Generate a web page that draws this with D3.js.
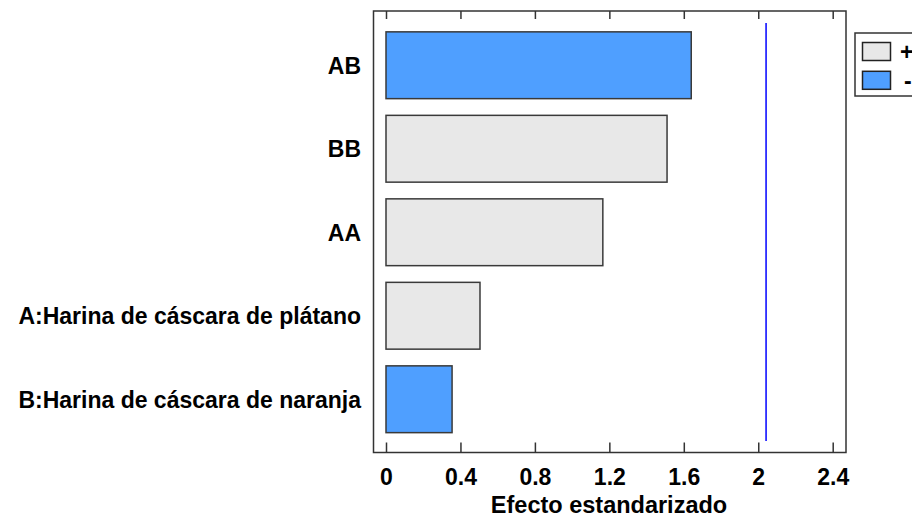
<!DOCTYPE html>
<html><head><meta charset="utf-8">
<script src="https://cdn.jsdelivr.net/npm/d3@7/dist/d3.min.js"></script>
<style>body{margin:0;background:#fff}svg{display:block}text{font-family:"Liberation Sans",Arial,sans-serif;font-weight:bold;fill:#000}</style>
</head><body><svg id="c" width="912" height="518"></svg>
<script>
const categories = ["AB","BB","AA","A:Harina de cáscara de plátano","B:Harina de cáscara de naranja"];
const effects = [1.64, 1.51, 1.165, 0.505, 0.355];
const signs = ["-","+","+","+","-"];
const tickValues = [0,0.4,0.8,1.2,1.6,2,2.4];
const tickLabels = ["0","0.4","0.8","1.2","1.6","2","2.4"];
const criticalValue = 2.042;
const legendItems = ["+","-"];

const colors = {"+":"#E8E8E8","-":"#4F9FFF"};
const svg = d3.select("#c");
const L = 373.5, R = 846, T = 11, B = 452.5;
const x = d3.scaleLinear().domain([0,2.4]).range([386,832.7]);
const y = d3.scaleBand().domain(categories).range([23.5,441]).paddingInner(0.2).paddingOuter(0.1);

svg.selectAll("rect.bar").data(categories).enter().append("rect")
  .attr("x", x(0)).attr("y", d=>y(d))
  .attr("width", (d,i)=>x(effects[i])-x(0)).attr("height", y.bandwidth())
  .attr("fill", (d,i)=>colors[signs[i]]).attr("stroke","#3a3a3a").attr("stroke-width",1.5);

svg.append("line").attr("x1",x(criticalValue)).attr("x2",x(criticalValue))
  .attr("y1",23).attr("y2",441).attr("stroke","#0000FF").attr("stroke-width",1.5);

svg.append("rect").attr("x",L).attr("y",T).attr("width",R-L).attr("height",B-T)
  .attr("fill","none").attr("stroke","#333").attr("stroke-width",1.5);

const bottomAxis = d3.axisBottom(x).tickValues(tickValues).tickSize(-10).tickFormat((d,i)=>tickLabels[i]);
const gb = svg.append("g").attr("transform",`translate(0,${B})`).call(bottomAxis);
gb.select(".domain").remove();
gb.selectAll(".tick line").attr("stroke","#333").attr("stroke-width",1.5);
gb.selectAll(".tick text").attr("y",24).attr("dy","0.36em").style("font-size","23px")
  .style("font-family","'Liberation Sans',Arial,sans-serif").style("font-weight","bold").attr("fill","#000");

const topAxis = d3.axisTop(x).tickValues(tickValues).tickSize(-8).tickFormat("");
const gt = svg.append("g").attr("transform",`translate(0,${T})`).call(topAxis);
gt.select(".domain").remove();
gt.selectAll(".tick line").attr("stroke","#333").attr("stroke-width",1.5);

svg.selectAll("text.cat").data(categories).enter().append("text")
  .attr("x",361).attr("y",d=>y(d)+y.bandwidth()/2).attr("dy","0.36em")
  .attr("text-anchor","end").style("font-size","23px").text(d=>d);

svg.append("text").attr("x",609).attr("y",505).attr("dy","0.36em").attr("text-anchor","middle")
  .style("font-size","23.5px").text("Efecto estandarizado");

const lg = svg.append("g");
lg.append("rect").attr("x",855).attr("y",33).attr("width",70).attr("height",63)
  .attr("fill","#fff").attr("stroke","#333").attr("stroke-width",1.5);
legendItems.forEach((s,i)=>{
  lg.append("rect").attr("x",862.5).attr("y",42.5+i*28.8).attr("width",28).attr("height",18)
    .attr("fill",colors[s]).attr("stroke","#222").attr("stroke-width",1.5);
  lg.append("text").attr("x",s==="+"?900:904).attr("y",51.5+i*28.8).attr("dy","0.36em")
    .style("font-size","23px").text(s);
});
</script></body></html>
